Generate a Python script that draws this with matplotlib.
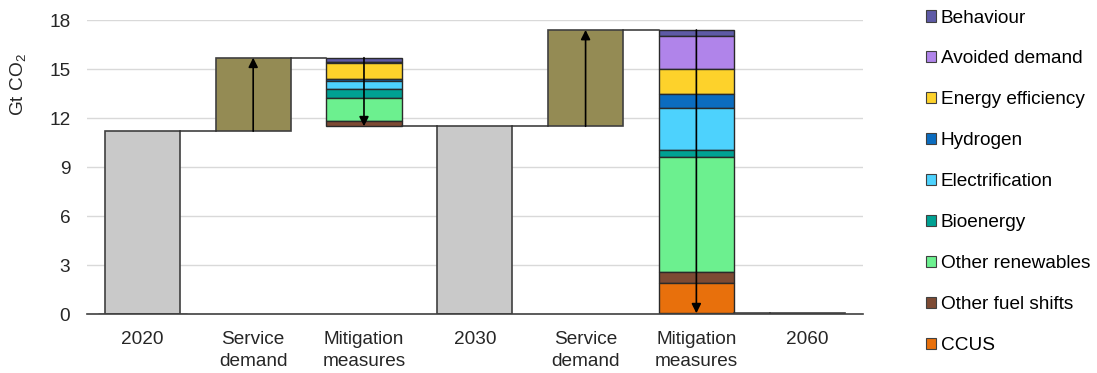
import numpy as np
import matplotlib.pyplot as plt

plt.rcParams['font.family'] = ['Liberation Sans', 'DejaVu Sans']
plt.rcParams['mathtext.fontset'] = 'custom'
plt.rcParams['mathtext.rm'] = 'Liberation Sans'
plt.rcParams['mathtext.it'] = 'Liberation Sans'

# data (Gt CO2)
categories = ["2020", "Service\ndemand", "Mitigation\nmeasures", "2030",
              "Service\ndemand", "Mitigation\nmeasures", "2060"]
emissions_2020 = 11.2
emissions_2030 = 11.5
emissions_2060 = 0.05
service_demand = [4.5, 5.9]

measures = ["Behaviour", "Avoided demand", "Energy efficiency", "Hydrogen",
            "Electrification", "Bioenergy", "Other renewables",
            "Other fuel shifts", "CCUS"]
colors = ["#5e5aa6", "#b084ea", "#fdd22b", "#0b6cbf", "#4dd2fd",
          "#00a193", "#6cf08f", "#7d4a33", "#e8700c"]
mitigation_2030 = [0.25, 0.05, 1.0, 0.15, 0.45, 0.55, 1.4, 0.35, 0.0]
mitigation_2060 = [0.35, 2.05, 1.5, 0.9, 2.55, 0.45, 7.0, 0.7, 1.85]

FS = 13.7

fig = plt.figure(figsize=(10.97, 3.73), dpi=100)
ax = fig.add_axes([0.0793, 0.158, 0.707, 0.788])

x = np.arange(len(categories))
w = 0.68
edge = "#404040"
gray = "#c9c9c9"
olive = "#948b54"

# level bars
ax.bar(x[0], emissions_2020, w, color=gray, edgecolor=edge, lw=1.2, zorder=3)
ax.bar(x[3], emissions_2030, w, color=gray, edgecolor=edge, lw=1.2, zorder=3)
ax.bar(x[6], emissions_2060, w, color=gray, edgecolor=edge, lw=1.2, zorder=3)

def arrow(xi, y0, y1):
    ax.annotate("", xy=(xi, y1), xytext=(xi, y0),
                arrowprops=dict(arrowstyle="-|>", color="black", lw=1.2,
                                shrinkA=0, shrinkB=0, mutation_scale=14),
                zorder=6)

def connector(x0, x1, level):
    ax.plot([x0 + w / 2, x1 - w / 2], [level, level], color="#303030",
            lw=1.1, zorder=4)

starts = [emissions_2020, emissions_2030]
ends = [emissions_2030, emissions_2060]
mitigations = [mitigation_2030, mitigation_2060]
for k in range(2):
    i_sd = 1 + 3 * k
    i_mm = 2 + 3 * k
    base = starts[k]
    top = base + service_demand[k]
    ax.bar(x[i_sd], service_demand[k], w, bottom=base, color=olive,
           edgecolor=edge, lw=1.2, zorder=3)
    arrow(x[i_sd], base, top)
    connector(x[i_sd - 1], x[i_sd], base)
    connector(x[i_sd], x[i_mm], top)
    level = top
    for name, val, c in zip(measures, mitigations[k], colors):
        if val <= 0:
            continue
        ax.bar(x[i_mm], val, w, bottom=level - val, color=c,
               edgecolor="#2a2a2a", lw=1.0, zorder=3)
        level -= val
    arrow(x[i_mm], top, ends[k])
    connector(x[i_mm], x[i_mm + 1], ends[k])

# legend handles
for name, c in zip(measures, colors):
    ax.bar(0, 0, color=c, edgecolor="#404040", lw=0.8, label=name)

ax.set_xlim(-0.5, 6.5)
ax.set_ylim(0, 18)
ax.set_yticks(np.arange(0, 19, 3))
ax.set_xticks(x)
ax.set_xticklabels(categories, fontsize=FS, color="#262626", linespacing=1.4,
                   va="top")
ax.tick_params(axis="y", length=0, pad=12, labelsize=FS, labelcolor="#262626")
ax.tick_params(axis="x", length=0, pad=12)
ax.grid(axis="y", color="#d9d9d9", lw=1.0, zorder=0)
ax.set_axisbelow(True)
for s in ["top", "right", "left"]:
    ax.spines[s].set_visible(False)
ax.spines["bottom"].set_color("#404040")
ax.spines["bottom"].set_linewidth(1.2)
ax.spines["bottom"].set_zorder(5)

ax.set_ylabel("Gt CO$_2$", fontsize=FS, color="#262626")
ax.yaxis.set_label_coords(-0.076, 0.78)

fig.legend(*ax.get_legend_handles_labels(), loc="upper left",
           bbox_to_anchor=(0.835, 1.0), frameon=False, fontsize=FS,
           handlelength=0.55, handleheight=0.55, handletextpad=0.25,
           labelspacing=1.26, borderaxespad=0.1)

fig.savefig("out.png", dpi=100)
